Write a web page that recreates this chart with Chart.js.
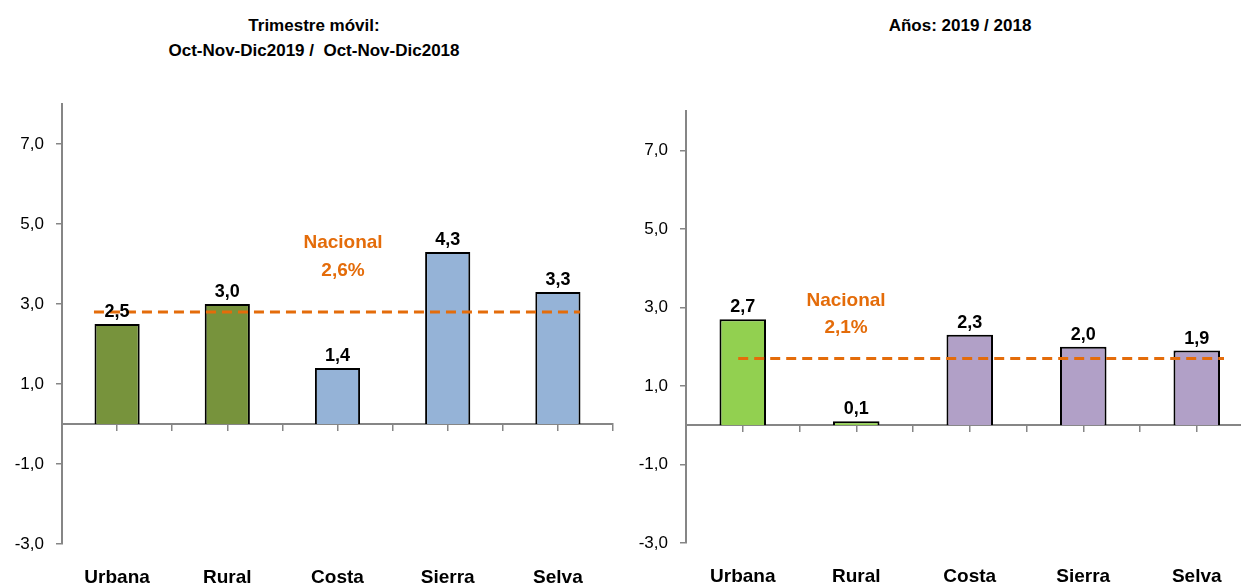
<!DOCTYPE html>
<html>
<head>
<meta charset="utf-8">
<script src="https://cdn.jsdelivr.net/npm/chart.js@4.4.0/dist/chart.umd.min.js"></script>
<style>
  html, body { margin: 0; padding: 0; background: #fff; overflow: hidden; width: 1241px; height: 583px; }
  .box { position: absolute; top: 0; height: 583px; }
  .title {
    position: absolute; text-align: center; font-weight: bold; font-size: 17px; line-height: 25px;
    font-family: "Liberation Sans Narrow", "Arial Narrow", "Liberation Sans", sans-serif; color: #000;
  }
</style>
</head>
<body>
<div class="title" style="left:164px; top:13px; width:300px;">Trimestre móvil:<br>Oct-Nov-Dic2019 /&nbsp; Oct-Nov-Dic2018</div>
<div class="title" style="left:810px; top:13px; width:300px;">Años: 2019 / 2018</div>
<div class="box" style="left:0; width:620px;"><canvas id="left"></canvas></div>
<div class="box" style="left:620px; width:640px;"><canvas id="right"></canvas></div>
<script>
const categories = ["Urbana", "Rural", "Costa", "Sierra", "Selva"];
const trimestreValues = [2.5, 3.0, 1.4, 4.3, 3.3];
const anualValues = [2.7, 0.1, 2.3, 2.0, 1.9];
const yTicks = [-3, -1, 1, 3, 5, 7];
// the dashed national line as it sits in the picture
const trimestreNacional = 2.8;
const anualNacional = 1.7;
const trimestreNacionalText = ["Nacional", "2,6%"];
const anualNacionalText = ["Nacional", "2,1%"];

const FONT = '"Liberation Sans Narrow", "Arial Narrow", "Liberation Sans", sans-serif';
const AXIS = "#868686";
const ORANGE = "#E46C0A";
const fmt = v => v.toFixed(1).replace(".", ",");

const labelsPlugin = {
  id: "labels",
  afterDatasetsDraw(chart, args, opts) {
    const ctx = chart.ctx;
    ctx.save();
    ctx.fillStyle = "#000";
    ctx.font = "bold 18px " + FONT;
    ctx.textAlign = "center";
    ctx.textBaseline = "alphabetic";
    chart.getDatasetMeta(0).data.forEach((bar, i) => {
      ctx.fillText(fmt(chart.data.datasets[0].data[i]), bar.x, bar.y - 7);
    });
    const xs = chart.scales.xl, ys = chart.scales.y;
    ctx.fillStyle = ORANGE;
    ctx.font = "bold 19px " + FONT;
    ctx.textBaseline = "middle";
    opts.text.forEach((t, i) => {
      ctx.fillText(t, xs.getPixelForValue(opts.at[0]), ys.getPixelForValue(opts.at[1] - i * 0.7));
    });
    ctx.restore();
  }
};

function makeChart(id, values, colors, nacional, span, text, textAt, pad) {
  return new Chart(document.getElementById(id), {
    type: "bar",
    data: {
      labels: categories,
      datasets: [{
        data: values,
        backgroundColor: colors,
        borderColor: "#000",
        borderWidth: 2,
        barPercentage: 0.41,
        categoryPercentage: 1,
        grouped: false,
        order: 1
      }, {
        type: "line",
        data: [{ x: span[0], y: nacional }, { x: span[1], y: nacional }],
        xAxisID: "xl",
        borderColor: ORANGE,
        borderWidth: 3,
        borderDash: [10, 6],
        pointRadius: 0,
        order: 0
      }]
    },
    options: {
      responsive: true,
      maintainAspectRatio: false,
      animation: false,
      layout: { padding: { top: pad.top, right: pad.right, left: 0, bottom: 0 } },
      plugins: {
        legend: { display: false },
        tooltip: { enabled: false },
        labels: { text: text, at: textAt }
      },
      scales: {
        x: {
          position: "bottom",
          offset: true,
          grid: { display: false },
          border: { display: false },
          ticks: { color: "#000", font: { family: FONT, size: 19, weight: "bold" }, padding: 14 },
          afterFit: s => { s.height = pad.bottom; }
        },
        xl: {
          type: "linear",
          position: { y: 0 },
          offset: false,
          min: -0.5,
          max: 4.5,
          ticks: { display: false, stepSize: 0.5 },
          grid: { offset: false, drawOnChartArea: false, tickLength: 6, color: AXIS, lineWidth: 1.5 },
          border: { color: AXIS, width: 2 }
        },
        y: {
          min: -3,
          max: 8,
          afterBuildTicks: s => { s.ticks = yTicks.map(v => ({ value: v })); },
          ticks: { color: "#000", font: { family: FONT, size: 17 }, padding: 12, callback: v => fmt(v) },
          grid: { drawOnChartArea: false, tickLength: 6, color: AXIS, lineWidth: 1.5 },
          border: { color: AXIS, width: 2 },
          afterFit: s => { s.width = pad.left; }
        }
      }
    },
    plugins: [labelsPlugin]
  });
}

makeChart("left", trimestreValues,
  ["#77933C", "#77933C", "#95B3D7", "#95B3D7", "#95B3D7"],
  trimestreNacional, [-0.21, 4.2], trimestreNacionalText, [2.05, 4.53],
  { top: 104, right: 7, bottom: 39, left: 62 });

makeChart("right", anualValues,
  ["#92D050", "#92D050", "#B1A0C7", "#B1A0C7", "#B1A0C7"],
  anualNacional, [-0.04, 4.24], anualNacionalText, [0.91, 3.17],
  { top: 111, right: 6.5, bottom: 40, left: 66 });
</script>
</body>
</html>
